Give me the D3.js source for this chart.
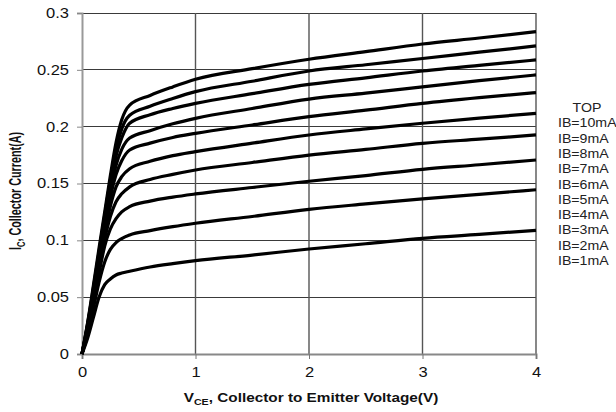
<!DOCTYPE html>
<html>
<head>
<meta charset="utf-8">
<script src="https://d3js.org/d3.v7.min.js"></script>
<style>
  html, body { margin: 0; padding: 0; background: #fff; }
  svg { display: block; font-family: "Liberation Sans", Arial, sans-serif; }
  .tick text { font-size: 14px; fill: #111; }
  .title { font-weight: bold; fill: #111; }
  .legend { font-size: 12px; fill: #222; }
</style>
</head>
<body>
<svg id="chart" width="616" height="412"></svg>
<script>
// collector-emitter voltage samples (V)
const vce = [0, 0.05, 0.1, 0.15, 0.2, 0.25, 0.3, 0.35, 0.42, 0.6, 0.8, 1, 1.5, 2, 2.5, 3, 3.5, 4];

// collector current (A) per base current
const ib10 = [0, 0.028, 0.060, 0.093, 0.125, 0.157, 0.186, 0.206, 0.219, 0.2275, 0.235, 0.2417, 0.251, 0.2593, 0.266, 0.2727, 0.278, 0.2836];
const ib9 = [0, 0.027, 0.058, 0.090, 0.122, 0.153, 0.180, 0.198, 0.210, 0.218, 0.2248, 0.2308, 0.240, 0.249, 0.2545, 0.260, 0.2655, 0.271];
const ib8 = [0, 0.026, 0.056, 0.087, 0.118, 0.148, 0.174, 0.190, 0.203, 0.2105, 0.216, 0.2205, 0.229, 0.2372, 0.243, 0.249, 0.254, 0.2587];
const ib7 = [0, 0.025, 0.054, 0.084, 0.114, 0.143, 0.166, 0.180, 0.190, 0.1965, 0.2025, 0.2073, 0.216, 0.2243, 0.2295, 0.235, 0.2405, 0.2455];
const ib6 = [0, 0.024, 0.052, 0.081, 0.110, 0.138, 0.158, 0.170, 0.1795, 0.1855, 0.1905, 0.1941, 0.2015, 0.2088, 0.2145, 0.2205, 0.2255, 0.230];
const ib5 = [0, 0.023, 0.050, 0.078, 0.106, 0.130, 0.147, 0.156, 0.163, 0.1695, 0.1745, 0.178, 0.1855, 0.1927, 0.198, 0.203, 0.2075, 0.2117];
const ib4 = [0, 0.022, 0.048, 0.075, 0.101, 0.121, 0.134, 0.141, 0.147, 0.1535, 0.158, 0.1619, 0.1685, 0.175, 0.180, 0.1853, 0.189, 0.1927];
const ib3 = [0, 0.020, 0.045, 0.071, 0.095, 0.110, 0.119, 0.125, 0.1296, 0.1345, 0.138, 0.1408, 0.1465, 0.152, 0.157, 0.1625, 0.1665, 0.1707];
const ib2 = [0, 0.018, 0.040, 0.063, 0.081, 0.092, 0.098, 0.1015, 0.1047, 0.1085, 0.112, 0.115, 0.121, 0.1273, 0.132, 0.1364, 0.1405, 0.1445];
const ib1 = [0, 0.014, 0.032, 0.050, 0.061, 0.066, 0.0695, 0.0712, 0.0728, 0.0765, 0.0795, 0.0821, 0.087, 0.0924, 0.097, 0.1018, 0.1052, 0.1088];

const series = [ib10, ib9, ib8, ib7, ib6, ib5, ib4, ib3, ib2, ib1];
const legendLabels = ['TOP', 'IB=10mA', 'IB=9mA', 'IB=8mA', 'IB=7mA', 'IB=6mA', 'IB=5mA', 'IB=4mA', 'IB=3mA', 'IB=2mA', 'IB=1mA'];
const xTicks = [0, 1, 2, 3, 4];
const yTicks = [0, 0.05, 0.1, 0.15, 0.2, 0.25, 0.3];

// the original picture is a bit wider than tall, text looks stretched
const stretch = 1.18;

const svg = d3.select('#chart');
const x = d3.scaleLinear().domain([0, 4]).range([82, 536]);
const y = d3.scaleLinear().domain([0, 0.3]).range([354, 13]);

// grid
svg.append('g')
    .selectAll('line')
    .data(yTicks.slice(1))
    .join('line')
    .attr('x1', x(0)).attr('x2', x(4))
    .attr('y1', d => y(d)).attr('y2', d => y(d))
    .attr('stroke', '#3a3a3a')
    .attr('stroke-width', 1)
    .attr('shape-rendering', 'crispEdges');
svg.append('g')
    .selectAll('line')
    .data(xTicks.slice(1))
    .join('line')
    .attr('x1', d => x(d)).attr('x2', d => x(d))
    .attr('y1', y(0)).attr('y2', y(0.3))
    .attr('stroke', '#555')
    .attr('stroke-width', 1.4);

// axes
const yAxis = d3.axisLeft(y).tickValues(yTicks).tickSize(5).tickPadding(6)
    .tickFormat(d => d === 0 ? '0' : String(+d.toFixed(2)));
const gy = svg.append('g').attr('transform', `translate(${x(0)},0)`).call(yAxis);
gy.select('.domain').attr('stroke', '#999').attr('stroke-width', 2);
gy.selectAll('.tick line').attr('stroke', '#888');

const xAxis = d3.axisBottom(x).tickValues(xTicks).tickSize(5).tickPadding(8).tickFormat(d3.format('d'));
const gx = svg.append('g').attr('transform', `translate(0,${y(0)})`).call(xAxis);
gx.select('.domain').attr('stroke', '#888').attr('stroke-width', 2);
gx.selectAll('.tick line').attr('stroke', '#777');
svg.selectAll('.tick text')
    .attr('font-family', null)
    .attr('font-size', null)
    .attr('transform', `scale(${stretch},1)`);
gx.selectAll('.tick text').attr('x', 0);

// curves
const line = d3.line()
    .x((d, i) => x(vce[i]))
    .y(d => y(d))
    .curve(d3.curveMonotoneX);
svg.append('g')
    .selectAll('path')
    .data(series)
    .join('path')
    .attr('d', line)
    .attr('fill', 'none')
    .attr('stroke', '#000')
    .attr('stroke-width', 3.2)
    .attr('stroke-linejoin', 'round');

// axis titles
const xt = svg.append('text').attr('class', 'title')
    .attr('font-size', 13)
    .attr('transform', `translate(311,402) scale(${stretch},1)`)
    .attr('text-anchor', 'middle');
xt.append('tspan').text('V');
xt.append('tspan').attr('font-size', 9).attr('dy', 3).text('CE');
xt.append('tspan').attr('dy', -3).text(', Collector to Emitter Voltage(V)');

const yt = svg.append('text').attr('class', 'title')
    .attr('font-size', 12)
    .attr('transform', 'translate(21,191) scale(1.35,0.9) rotate(-90)')
    .attr('text-anchor', 'middle');
yt.append('tspan').text('I');
yt.append('tspan').attr('font-size', 8.5).attr('dy', 3).text('C');
yt.append('tspan').attr('dy', -3).text(', Collector Current(A)');

// legend
svg.append('g')
    .selectAll('text')
    .data(legendLabels)
    .join('text')
    .attr('class', 'legend')
    .attr('transform', (d, i) => `translate(${i === 0 ? 587 : 558},${112 + i * 15.3}) scale(${stretch},1)`)
    .attr('text-anchor', (d, i) => i === 0 ? 'middle' : 'start')
    .text(d => d);
</script>
</body>
</html>
